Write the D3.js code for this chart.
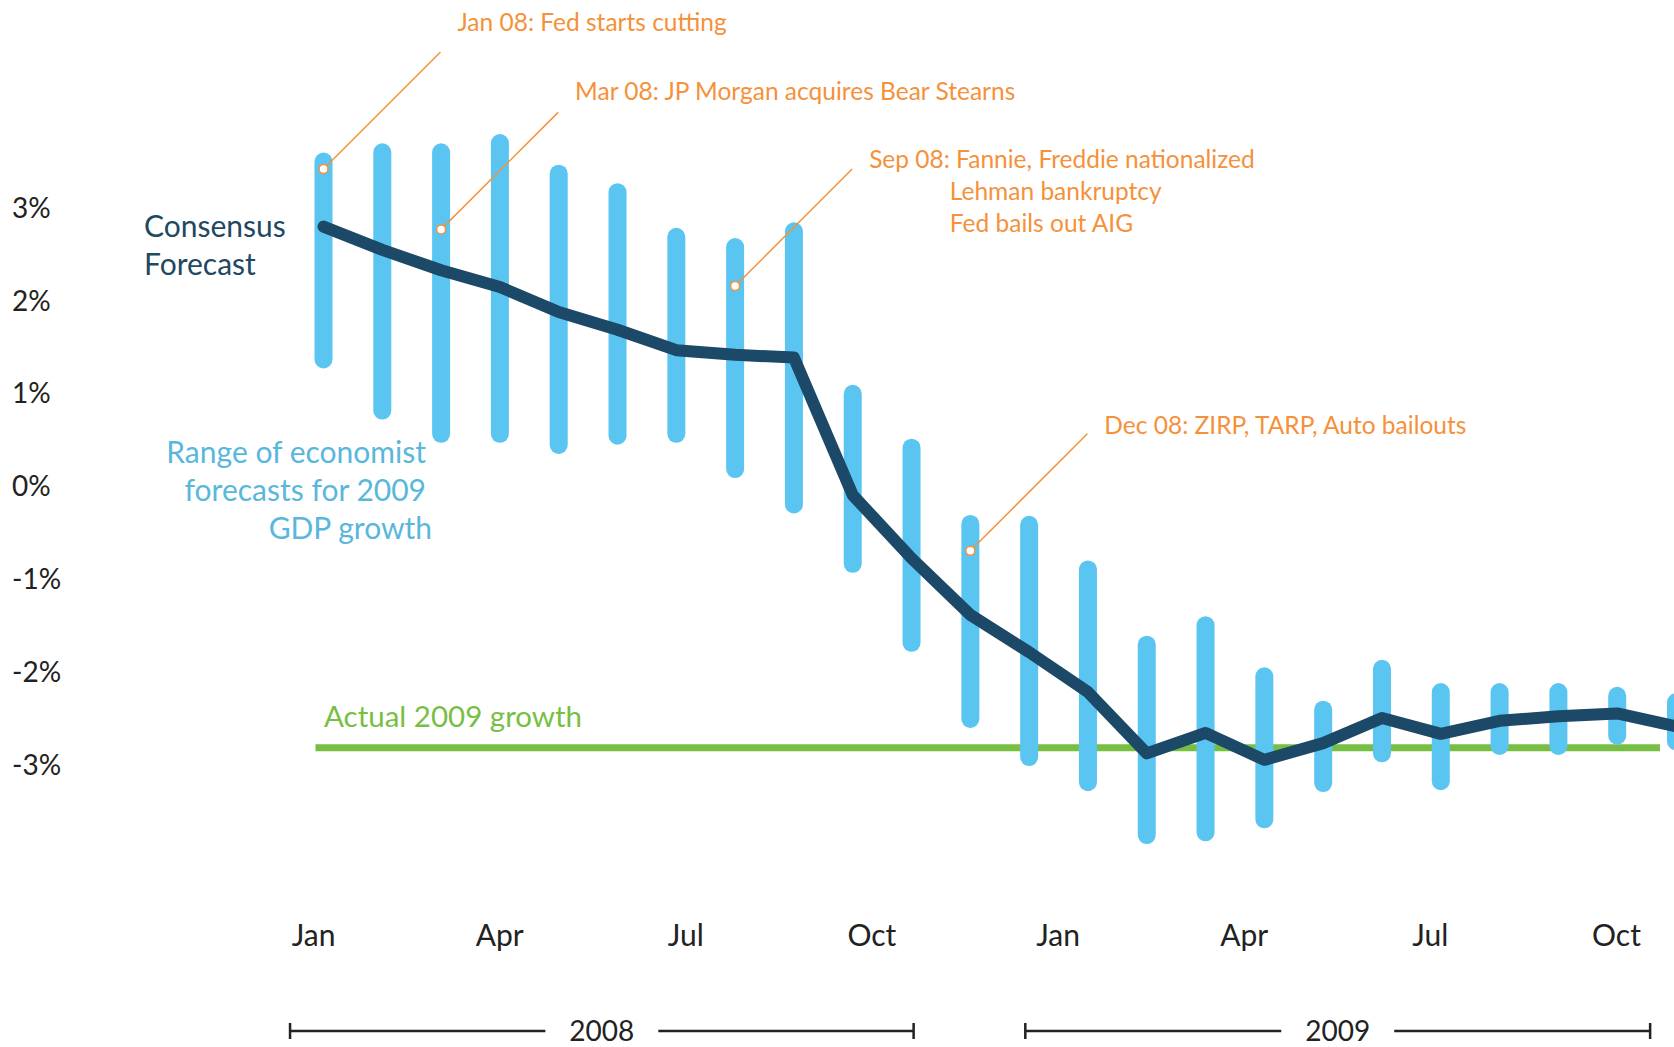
<!DOCTYPE html>
<html lang="en">
  <head>
    <meta charset="utf-8">
    <title>Forecasts for 2009 GDP growth</title>
    <script src="https://cdn.jsdelivr.net/npm/d3@7/dist/d3.min.js"></script>
    <style>
      body { margin: 0; background: #fff; }
      text { font-family: Lato, "Open Sans", sans-serif; }
    </style>
  </head>
  <body>
    <script>
      const WIDTH = 1674;
      const HEIGHT = 1047;

      // monthly surveys, Jan 08 .. Dec 09
      const surveys = ["Jan 08", "Feb 08", "Mar 08", "Apr 08", "May 08", "Jun 08",
                       "Jul 08", "Aug 08", "Sep 08", "Oct 08", "Nov 08", "Dec 08",
                       "Jan 09", "Feb 09", "Mar 09", "Apr 09", "May 09", "Jun 09",
                       "Jul 09", "Aug 09", "Sep 09", "Oct 09", "Nov 09", "Dec 09"];
      // range of economist forecasts for 2009 GDP growth (%)
      const rangeHigh = [3.49, 3.59, 3.59, 3.69, 3.36, 3.16, 2.68, 2.57, 2.74, 0.99, 0.41, -0.41,
                         -0.42, -0.90, -1.71, -1.50, -2.05, -2.41, -1.97, -2.22, -2.22, -2.22, -2.26, -2.33];
      const rangeLow = [1.36, 0.81, 0.56, 0.56, 0.44, 0.54, 0.56, 0.18, -0.20, -0.84, -1.69, -2.51,
                        -2.92, -3.19, -3.76, -3.73, -3.59, -3.20, -2.88, -3.18, -2.80, -2.80, -2.69, -2.75];
      // consensus forecast (%)
      const consensus = [2.79, 2.54, 2.32, 2.14, 1.87, 1.68, 1.46, 1.41, 1.38, -0.10, -0.78, -1.39,
                         -1.79, -2.22, -2.88, -2.66, -2.95, -2.77, -2.50, -2.67, -2.53, -2.48, -2.45, -2.59];
      const actual2009 = -2.82;

      const yTicks = [3, 2, 1, 0, -1, -2, -3];
      const monthTicks = ["Jan", "Apr", "Jul", "Oct", "Jan", "Apr", "Jul", "Oct"];
      const years = ["2008", "2009"];
      const yearSpans = [[-0.37, 9.68], [11.48, 21.55]]; // in months from Jan 08

      // annotations: survey where the dot sits, value on the bar, text lines
      const noteSurvey = ["Jan 08", "Mar 08", "Aug 08", "Dec 08"];
      const noteValue = [3.41, 2.76, 2.15, -0.70];
      const noteText = [
        ["Jan 08: Fed starts cutting"],
        ["Mar 08: JP Morgan acquires Bear Stearns"],
        ["Sep 08: Fannie, Freddie nationalized", "Lehman bankruptcy", "Fed bails out AIG"],
        ["Dec 08: ZIRP, TARP, Auto bailouts"]
      ];
      const NOTE_TEXT_DY = [-21, -12, -1, 0];
      const NOTE_SIZE = 24.5;

      const BLUE = "#5bc5f2";
      const NAVY = "#1c4967";
      const GREEN = "#77bf43";
      const ORANGE = "#f5913a";

      var svg = d3.select("body").append("svg")
        .attr("width", WIDTH)
        .attr("height", HEIGHT);

      var x = d3.scalePoint().domain(surveys).range([323.5, 1676]);
      var y = d3.scaleLinear().domain([3, -3]).range([207.1, 764.5]);
      var xMonth = d3.scaleLinear().domain([0, 21]).range([313, 1616]);

      // y axis labels
      var yAxis = svg.append("g")
        .attr("transform", "translate(12,0)")
        .call(d3.axisRight(y).tickValues(yTicks).tickFormat(d => d + "%").tickSize(0).tickPadding(0));
      yAxis.select(".domain").remove();
      yAxis.selectAll("text")
        .attr("font-family", "Lato, sans-serif")
        .attr("font-size", 28)
        .attr("fill", "#222")
        .attr("dy", "0.36em");

      // month labels
      var xAxis = svg.append("g")
        .attr("transform", "translate(0,946)")
        .call(d3.axisBottom(xMonth).tickValues(d3.range(0, 22, 3))
          .tickFormat((d, i) => monthTicks[i]).tickSize(0).tickPadding(0));
      xAxis.select(".domain").remove();
      xAxis.selectAll("text")
        .attr("font-family", "Lato, sans-serif")
        .attr("font-size", 30)
        .attr("fill", "#222")
        .attr("y", 0)
        .attr("dy", 0);

      // year brackets
      const BRACKET_Y = 1031;
      years.forEach(function(yr, i){
        var x0 = xMonth(yearSpans[i][0]), x1 = xMonth(yearSpans[i][1]);
        var g = svg.append("g");
        var label = g.append("text")
          .attr("x", (x0 + x1) / 2)
          .attr("y", BRACKET_Y + 10)
          .attr("text-anchor", "middle")
          .attr("font-size", 28)
          .attr("fill", "#222")
          .text(yr);
        var half = label.node().getComputedTextLength() / 2 + 24;
        var mid = (x0 + x1) / 2;
        g.append("path")
          .attr("d", "M" + x0 + "," + BRACKET_Y + "H" + (mid - half)
              + "M" + (mid + half) + "," + BRACKET_Y + "H" + x1
              + "M" + x0 + "," + (BRACKET_Y - 8) + "V" + (BRACKET_Y + 8)
              + "M" + x1 + "," + (BRACKET_Y - 8) + "V" + (BRACKET_Y + 8))
          .attr("stroke", "#222")
          .attr("stroke-width", 2.5)
          .attr("fill", "none");
      });

      // actual 2009 growth
      svg.append("line")
        .attr("x1", x(surveys[0]) - 8)
        .attr("x2", xMonth(21) + 44)
        .attr("y1", y(actual2009))
        .attr("y2", y(actual2009))
        .attr("stroke", GREEN)
        .attr("stroke-width", 7);

      // forecast ranges
      svg.append("g").selectAll("line")
        .data(surveys)
        .join("line")
        .attr("x1", d => x(d))
        .attr("x2", d => x(d))
        .attr("y1", (d, i) => y(rangeHigh[i]))
        .attr("y2", (d, i) => y(rangeLow[i]))
        .attr("stroke", BLUE)
        .attr("stroke-width", 18)
        .attr("stroke-linecap", "round");

      // consensus line
      var line = d3.line()
        .x((d, i) => x(surveys[i]))
        .y(d => y(d));
      svg.append("path")
        .datum(consensus)
        .attr("d", line)
        .attr("fill", "none")
        .attr("stroke", NAVY)
        .attr("stroke-width", 12)
        .attr("stroke-linejoin", "round")
        .attr("stroke-linecap", "round");

      // annotations
      const LEAD = 117;
      noteSurvey.forEach(function(s, i){
        var px = x(s), py = y(noteValue[i]);
        var ex = px + LEAD, ey = py - LEAD;
        svg.append("line")
          .attr("x1", px).attr("y1", py)
          .attr("x2", ex).attr("y2", ey)
          .attr("stroke", ORANGE)
          .attr("stroke-width", 1.5);
        svg.append("circle")
          .attr("cx", px).attr("cy", py)
          .attr("r", 4.5)
          .attr("fill", "#fff")
          .attr("stroke", ORANGE)
          .attr("stroke-width", 1.5);
        var t = svg.append("text")
          .attr("font-size", NOTE_SIZE)
          .attr("fill", ORANGE);
        t.append("tspan")
          .attr("x", ex + 17)
          .attr("y", ey + NOTE_TEXT_DY[i])
          .text(noteText[i][0]);
        if (noteText[i].length > 1) {
          // continuation lines line up after the "Sep 08: " prefix
          var probe = svg.append("text").attr("font-size", NOTE_SIZE)
            .text(noteText[i][0].split(" ").slice(0, 2).join(" ") + " ");
          var indent = probe.node().getComputedTextLength();
          probe.remove();
          noteText[i].slice(1).forEach(function(l, j){
            t.append("tspan")
              .attr("x", ex + 17 + indent)
              .attr("y", ey + NOTE_TEXT_DY[i] + 32 * (j + 1))
              .text(l);
          });
        }
      });

      // series labels
      svg.append("text")
        .attr("font-size", 30)
        .attr("fill", "#1f4863")
        .selectAll("tspan")
        .data(["Consensus", "Forecast"])
        .join("tspan")
        .attr("x", 144)
        .attr("y", (d, i) => 237 + 38 * i)
        .text(d => d);

      svg.append("text")
        .attr("text-anchor", "end")
        .attr("font-size", 30)
        .attr("fill", "#59b7dc")
        .selectAll("tspan")
        .data(["Range of economist", "forecasts for 2009", "GDP growth"])
        .join("tspan")
        .attr("x", (d, i) => i == 2 ? 432 : 426)
        .attr("y", (d, i) => 463 + 38 * i)
        .text(d => d);

      svg.append("text")
        .attr("x", 324)
        .attr("y", y(actual2009) - 21)
        .attr("font-size", 29.5)
        .attr("fill", GREEN)
        .text("Actual 2009 growth");
    </script>
  </body>
</html>
